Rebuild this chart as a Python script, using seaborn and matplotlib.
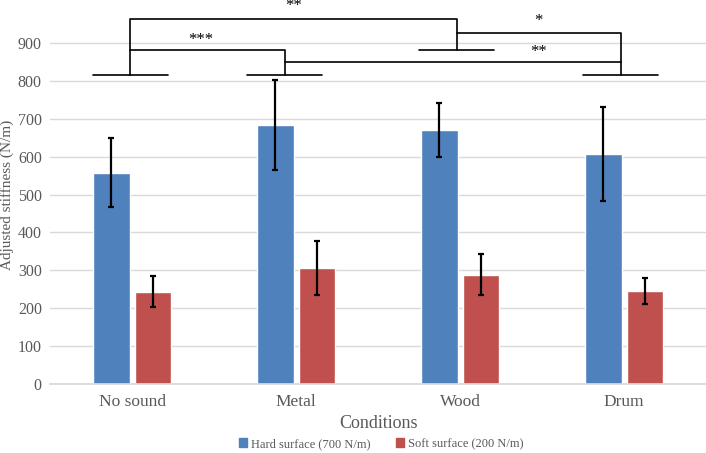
import numpy as np
import pandas as pd
import seaborn as sns
import matplotlib.pyplot as plt

conditions = ["No sound", "Metal", "Wood", "Drum"]
surfaces = ["Hard surface (700 N/m)", "Soft surface (200 N/m)"]
hard_mean = [558, 683, 670, 606]
hard_err = [92, 118, 72, 124]
soft_mean = [244, 306, 289, 245]
soft_err = [40, 72, 55, 34]

sig_labels = ["**", "***", "*", "**"]

sns.set_theme(style="whitegrid")
plt.rcParams["font.family"] = ["Liberation Serif", "DejaVu Serif"]

df = pd.DataFrame({
    "condition": conditions * 2,
    "surface": [surfaces[0]] * 4 + [surfaces[1]] * 4,
    "value": hard_mean + soft_mean,
    "err": hard_err + soft_err,
})

fig = plt.figure(figsize=(7.06, 4.53), dpi=100)
ax = fig.add_axes([0.071, 0.152, 0.929, 0.837])

sns.barplot(data=df, x="condition", y="value", hue="surface",
            palette=["#4F81BD", "#C0504D"], width=0.51, gap=0.12,
            errorbar=None, saturation=1, ax=ax, zorder=2, legend=False)

# error bars on the centre of each bar
for patch, (_, row) in zip(ax.patches, df.iterrows()):
    xc = patch.get_x() + patch.get_width() / 2
    ax.errorbar(xc, row["value"], yerr=row["err"], fmt="none", ecolor="black",
                elinewidth=1.6, capsize=2.5, capthick=1.6, zorder=3)

ax.set_ylim(0, 1000)
ax.set_xlim(-0.5, 3.5)
ax.set_yticks(range(0, 1000, 100))
ax.grid(axis="y", color="#D9D9D9", linewidth=1)
ax.grid(axis="x", visible=False)
for s in ["top", "right", "left"]:
    ax.spines[s].set_visible(False)
ax.spines["bottom"].set_color("#D9D9D9")
ax.tick_params(axis="x", colors="#595959", labelsize=12.5, length=0, pad=7)
ax.tick_params(axis="y", colors="#595959", labelsize=11.5, length=0, pad=6)
ax.set_xticks([0.5, 1.5, 2.5], minor=True)
ax.tick_params(axis="x", which="minor", length=4, color="#D9D9D9")
ax.set_xlabel("Conditions", fontsize=13, color="#595959", labelpad=4)
ax.set_ylabel("Adjusted stiffness (N/m)", fontsize=11, color="#595959")
ax.yaxis.set_label_coords(-0.055, 0.5)

# significance brackets
lc = dict(color="black", lw=1.2, clip_on=False, zorder=4)
leg_pos = [(-0.01, 816), (0.93, 816), (1.98, 880), (2.98, 816)]
for x, y in leg_pos:
    ax.plot([x - 0.23, x + 0.23], [y, y], **lc)
x0, x1, x2, x3 = [p[0] for p in leg_pos]
ax.plot([x0, x0, x2, x2], [816, 962, 962, 880], **lc)
ax.plot([x0, x1, x1], [881, 881, 816], **lc)
ax.plot([x1, x3], [850, 850], **lc)
ax.plot([x2, x3, x3], [927, 927, 816], **lc)
tk = dict(ha="center", va="center", fontsize=12, color="black", clip_on=False)
ax.text((x0 + x2) / 2, 996, sig_labels[0], **tk)
ax.text((x0 + x1) / 2 - 0.04, 908, sig_labels[1], **tk)
ax.text((x2 + x3) / 2, 958, sig_labels[2], **tk)
ax.text((x2 + x3) / 2, 876, sig_labels[3], **tk)

handles = [plt.Rectangle((0, 0), 1, 1, color=c) for c in ["#4F81BD", "#C0504D"]]
leg = fig.legend(handles, surfaces, loc="center", bbox_to_anchor=(0.54, 0.02),
                 ncol=2, frameon=False, fontsize=9, handlelength=0.7,
                 handleheight=0.7, handletextpad=0.3, columnspacing=2.0)
for t in leg.get_texts():
    t.set_color("#595959")

fig.savefig("out.png", dpi=100)
